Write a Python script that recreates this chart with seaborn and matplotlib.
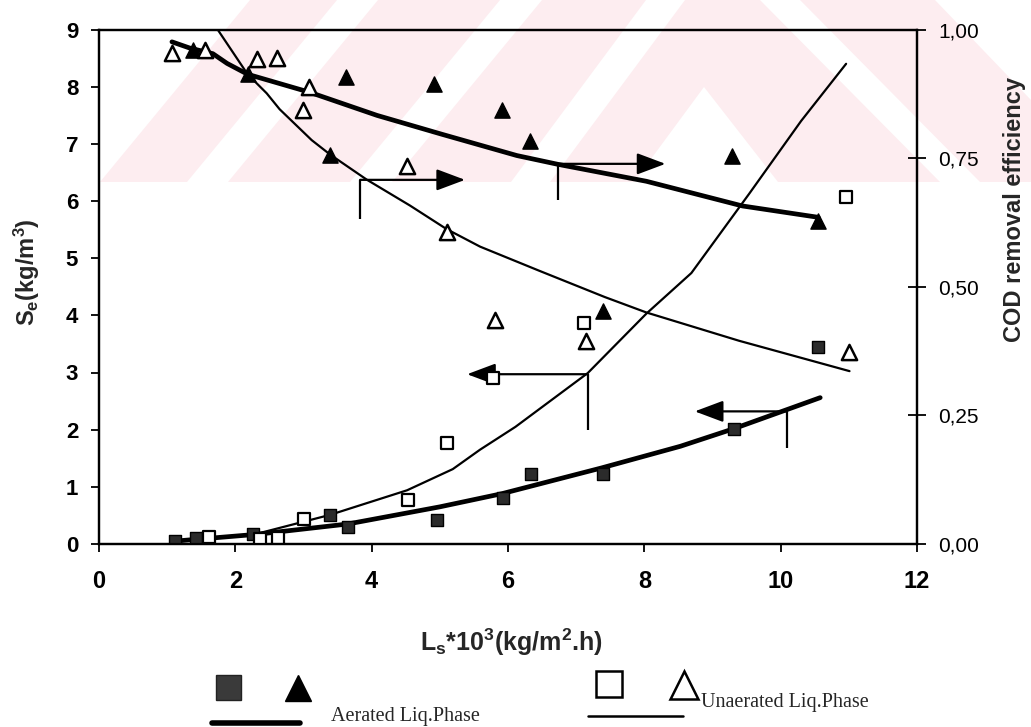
import matplotlib
matplotlib.use("Agg")
import matplotlib.pyplot as plt
from matplotlib.patches import Polygon
from matplotlib.lines import Line2D
from matplotlib.ticker import FuncFormatter
import seaborn as sns

# ---------------- data ----------------
# Se (kg/m3), left axis
sq_aer_x = [1.11, 1.42, 2.26, 3.39, 3.65, 4.96, 5.93, 6.34, 7.39, 9.32, 10.55]
sq_aer_y = [0.05, 0.10, 0.18, 0.51, 0.29, 0.42, 0.80, 1.23, 1.23, 2.02, 3.45]
sq_una_x = [1.62, 2.36, 2.62, 3.01, 4.53, 5.10, 5.78, 7.12, 10.96]
sq_una_y = [0.12, 0.09, 0.10, 0.43, 0.77, 1.77, 2.91, 3.86, 6.07]

# COD removal efficiency, right axis
tri_aer_x = [1.38, 2.18, 3.39, 3.62, 4.91, 5.91, 6.33, 7.39, 9.29, 10.55]
tri_aer_y = [0.960, 0.913, 0.756, 0.908, 0.894, 0.844, 0.784, 0.453, 0.754, 0.627]
tri_una_x = [1.07, 1.55, 2.32, 2.61, 2.99, 3.08, 4.52, 5.10, 5.81, 7.14, 11.0]
tri_una_y = [0.955, 0.960, 0.942, 0.945, 0.844, 0.888, 0.735, 0.606, 0.435, 0.395, 0.373]

# fitted curves
fit_eff_aer_x = [1.07, 1.33, 1.67, 1.88, 2.18, 3.09, 4.08, 5.04, 6.13, 6.73, 8.03, 9.44, 10.55]
fit_eff_aer_y = [0.976, 0.964, 0.953, 0.934, 0.913, 0.878, 0.833, 0.796, 0.755, 0.738, 0.705, 0.657, 0.635]
fit_eff_una_x = [1.74, 2.18, 2.46, 2.65, 3.12, 3.39, 3.93, 4.56, 5.10, 5.59, 6.46, 7.42, 8.03, 9.39, 11.01]
fit_eff_una_y = [1.0, 0.913, 0.876, 0.845, 0.785, 0.757, 0.708, 0.658, 0.612, 0.578, 0.531, 0.48, 0.450, 0.395, 0.336]
fit_se_una_x = [1.11, 2.32, 3.39, 4.52, 5.19, 5.59, 6.11, 7.17, 8.03, 8.69, 9.54, 10.30, 10.96]
fit_se_una_y = [0.05, 0.18, 0.51, 0.94, 1.31, 1.65, 2.05, 2.99, 4.03, 4.74, 6.13, 7.40, 8.40]
fit_se_aer_x = [1.11, 2.32, 3.65, 5.00, 5.91, 7.37, 8.53, 9.32, 10.58]
fit_se_aer_y = [0.05, 0.17, 0.35, 0.65, 0.88, 1.33, 1.71, 2.02, 2.56]

# axis-pointer arrows (left-axis data units)
arrow_x0 = [3.83, 6.74, 7.17, 10.09]
arrow_ylo = [5.68, 6.01, 2.00, 1.68]
arrow_yhi = [6.37, 6.65, 2.97, 2.32]
arrow_x1 = [5.37, 8.31, 5.40, 8.74]

x_ticks = [0, 2, 4, 6, 8, 10, 12]
left_ticks = [0, 1, 2, 3, 4, 5, 6, 7, 8, 9]
right_ticks = [0.0, 0.25, 0.5, 0.75, 1.0]

# ---------------- style ----------------
sns.set_style("white")
plt.rcParams["font.family"] = ["Liberation Sans", "DejaVu Sans"]
plt.rcParams["mathtext.fontset"] = "custom"
plt.rcParams["mathtext.rm"] = "Liberation Sans"
plt.rcParams["mathtext.bf"] = "Liberation Sans:bold"
plt.rcParams["mathtext.it"] = "Liberation Sans:italic"

W, H = 1031, 727
fig = plt.figure(figsize=(W / 100, H / 100), dpi=100)
fig.patch.set_facecolor("white")

def P(x, y):
    return (x / W, 1 - y / H)

# faint watermark in the background (decoration)
pink = "#fdedf0"
fig.add_artist(Polygon([P(100, 182), P(250, 0), P(1031, 0), P(1031, 182)],
                       closed=True, transform=fig.transFigure, facecolor=pink,
                       edgecolor="none", zorder=-10))
white_shapes = [
    [P(187, 182), P(228, 182), P(378, 0), P(337, 0)],
    [P(350, 182), P(392, 182), P(542, 0), P(500, 0)],
    [P(511, 182), P(550, 182), P(685, 0), P(646, 0)],
    [P(634, 182), P(704, 87), P(778, 182)],
    [P(760, 0), P(800, 0), P(980, 182), P(940, 182)],
    [P(935, 0), P(1031, 0), P(1031, 100)],
]
for poly in white_shapes:
    fig.add_artist(Polygon(poly, closed=True, transform=fig.transFigure,
                           facecolor="white", edgecolor="none", zorder=-9))

ax = fig.add_axes([99 / W, 1 - 544 / H, (917 - 99) / W, (544 - 29.5) / H])
ax.set_facecolor("none")
ax2 = ax.twinx()
ax2.set_facecolor("none")

# ---------------- curves ----------------
sns.lineplot(x=fit_se_aer_x, y=fit_se_aer_y, ax=ax, color="black", lw=3.4,
             sort=False, estimator=None, legend=False)
sns.lineplot(x=fit_se_una_x, y=fit_se_una_y, ax=ax, color="black", lw=1.6,
             sort=False, estimator=None, legend=False)
sns.lineplot(x=fit_eff_aer_x, y=fit_eff_aer_y, ax=ax2, color="black", lw=3.4,
             sort=False, estimator=None, legend=False)
sns.lineplot(x=fit_eff_una_x, y=fit_eff_una_y, ax=ax2, color="black", lw=1.6,
             sort=False, estimator=None, legend=False)

# ---------------- markers ----------------
sns.scatterplot(x=sq_aer_x, y=sq_aer_y, ax=ax, marker="s", s=70,
                color="#2b2b2b", edgecolor="black", linewidth=1.0, zorder=4)
sns.scatterplot(x=sq_una_x, y=sq_una_y, ax=ax, marker="s", s=70,
                color="white", edgecolor="black", linewidth=1.6, zorder=4)
sns.scatterplot(x=tri_aer_x, y=tri_aer_y, ax=ax2, marker="^", s=120,
                color="black", edgecolor="black", linewidth=1.0, zorder=4)
sns.scatterplot(x=tri_una_x, y=tri_una_y, ax=ax2, marker="^", s=120,
                color="white", edgecolor="black", linewidth=1.8, zorder=4)

# ---------------- pointer arrows ----------------
for x0, ylo, yhi, x1 in zip(arrow_x0, arrow_ylo, arrow_yhi, arrow_x1):
    ax.plot([x0, x0], [ylo, yhi], color="black", lw=1.6, solid_capstyle="butt")
    ax.annotate("", xy=(x1, yhi), xytext=(x0, yhi),
                arrowprops=dict(arrowstyle="-|>,head_length=0.8,head_width=0.3",
                                mutation_scale=22, color="black", lw=1.6,
                                shrinkA=0, shrinkB=0))

# ---------------- axes ----------------
ax.set_xlim(0, 12)
ax.set_ylim(0, 9)
ax2.set_ylim(0, 1)
ax.set_xticks(x_ticks)
ax.set_yticks(left_ticks)
ax2.set_yticks(right_ticks)
ax2.yaxis.set_major_formatter(FuncFormatter(lambda v, p: f"{v:.2f}".replace(".", ",")))
ax.set_xlabel("")
ax.set_ylabel("")
ax2.set_ylabel("")

for a in (ax, ax2):
    for sp in a.spines.values():
        sp.set_visible(True)
        sp.set_linewidth(1.6)
        sp.set_color("black")

ax.tick_params(axis="y", direction="out", length=6, width=1.3, labelsize=16,
               pad=9, colors="black", left=True)
ax.tick_params(axis="x", direction="out", length=6, width=1.3, labelsize=17,
               pad=13, colors="black", bottom=True)
ax2.tick_params(axis="y", direction="inout", length=13, width=1.3, labelsize=15,
                pad=9, colors="black", right=True)
for lbl in ax.get_xticklabels() + ax.get_yticklabels():
    lbl.set_fontweight("bold")

# axis titles
fig.text(*P(27, 272), r"S$_\mathbf{e}$(kg/m$^\mathbf{3}$)", rotation=90,
         ha="center", va="center", fontsize=17, fontweight="bold")
fig.text(*P(1014, 210), "COD removal efficiency", rotation=90,
         ha="center", va="center", fontsize=17, fontweight="bold")
fig.text(*P(511, 642), r"L$_\mathbf{s}$*10$^\mathbf{3}$(kg/m$^\mathbf{2}$.h)",
         ha="center", va="center", fontsize=18, fontweight="bold")

# ---------------- custom legend ----------------
fig.add_artist(Line2D([P(228, 0)[0]], [P(0, 687)[1]], marker="s", markersize=18,
                      markerfacecolor="#3a3a3a", markeredgecolor="#222222",
                      linestyle="none", transform=fig.transFigure))
fig.add_artist(Line2D([P(298, 0)[0]], [P(0, 688)[1]], marker="^", markersize=19,
                      markerfacecolor="black", markeredgecolor="black",
                      linestyle="none", transform=fig.transFigure))
fig.add_artist(Line2D([P(212, 0)[0], P(300, 0)[0]], [P(0, 723)[1]] * 2,
                      color="black", lw=4, transform=fig.transFigure))
fig.text(*P(331, 716), "Aerated Liq.Phase", family=["Liberation Serif"],
         fontsize=14.5, ha="left", va="center")

fig.add_artist(Line2D([P(609, 0)[0]], [P(0, 684)[1]], marker="s", markersize=19,
                      markerfacecolor="white", markeredgecolor="black",
                      markeredgewidth=1.8, linestyle="none",
                      transform=fig.transFigure))
fig.add_artist(Line2D([P(684, 0)[0]], [P(0, 685)[1]], marker="^", markersize=20,
                      markerfacecolor="white", markeredgecolor="black",
                      markeredgewidth=1.8, linestyle="none",
                      transform=fig.transFigure))
fig.add_artist(Line2D([P(588, 0)[0], P(683, 0)[0]], [P(0, 716)[1]] * 2,
                      color="black", lw=1.8, transform=fig.transFigure))
fig.text(*P(701, 703), "Unaerated Liq.Phase", family=["Liberation Serif"],
         fontsize=14.5, ha="left", va="center")

fig.savefig("out.png", dpi=100)
